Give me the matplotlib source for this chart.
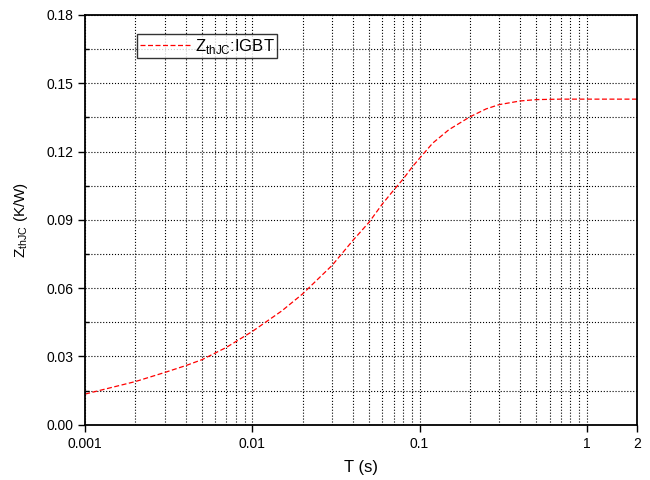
import matplotlib
matplotlib.use("Agg")
import matplotlib.pyplot as plt
from matplotlib.ticker import FixedLocator, NullFormatter, MultipleLocator

plt.rcParams["font.family"] = ["Liberation Sans", "DejaVu Sans"]
plt.rcParams["mathtext.fontset"] = "custom"
plt.rcParams["mathtext.rm"] = "Liberation Sans"

# transient thermal impedance
t_s = [0.001, 0.002, 0.003, 0.004, 0.005, 0.007, 0.01, 0.015, 0.02, 0.03,
       0.04, 0.05, 0.06, 0.07, 0.08, 0.09, 0.1, 0.12, 0.15, 0.2, 0.25, 0.3,
       0.4, 0.5, 0.7, 1.0, 2.0]
zth = [0.0135, 0.019, 0.023, 0.026, 0.0286, 0.034, 0.041, 0.050, 0.0575, 0.070,
       0.081, 0.089, 0.097, 0.103, 0.108, 0.113, 0.117, 0.1237, 0.1296, 0.1352,
       0.1387, 0.1406, 0.1422, 0.1428, 0.143, 0.143, 0.143]

x_ticks = [0.001, 0.01, 0.1, 1, 2]
x_labels = ["0.001", "0.01", "0.1", "1", "2"]
y_ticks = [0.00, 0.03, 0.06, 0.09, 0.12, 0.15, 0.18]

fig = plt.figure(figsize=(6.5, 4.8), dpi=100)
ax = fig.add_axes([0.131, 0.115, 0.849, 0.854])

ax.plot(t_s, zth, color="red", linestyle=(0, (4, 2)), linewidth=0.9,
        label=r"Z$_{\mathregular{thJC}}$:IGBT")

ax.set_xscale("log")
ax.set_xlim(0.001, 2)
ax.set_ylim(0, 0.18)

minors = [m * 10.0 ** e for e in (-3, -2, -1) for m in range(2, 10)]
ax.xaxis.set_major_locator(FixedLocator(x_ticks))
ax.set_xticklabels(x_labels)
ax.xaxis.set_minor_locator(FixedLocator(minors))
ax.xaxis.set_minor_formatter(NullFormatter())
ax.set_yticks(y_ticks)
ax.set_yticklabels([f"{v:.2f}" for v in y_ticks])
ax.yaxis.set_minor_locator(MultipleLocator(0.015))

ax.grid(which="both", color="black", linestyle=":", linewidth=0.8)
ax.tick_params(which="major", direction="out", length=5, width=1, labelsize=10)
ax.tick_params(which="minor", direction="in", length=3, width=1)
ax.tick_params(axis="x", which="minor", length=0)

for sp in ax.spines.values():
    sp.set_linewidth(1.3)

ax.set_xlabel("T (s)", fontsize=12, labelpad=7)
ax.set_ylabel(r"Z$_{\mathregular{thJC}}$ (K/W)", fontsize=11, labelpad=12)

leg = ax.legend(loc="upper left", bbox_to_anchor=(0.094, 0.953), fontsize=12,
                frameon=True, fancybox=False, handlelength=3.0,
                borderpad=0.15, handletextpad=0.3, borderaxespad=0)
leg.get_frame().set_edgecolor("black")
leg.get_frame().set_linewidth(1.0)

fig.savefig("out.png", dpi=100)
